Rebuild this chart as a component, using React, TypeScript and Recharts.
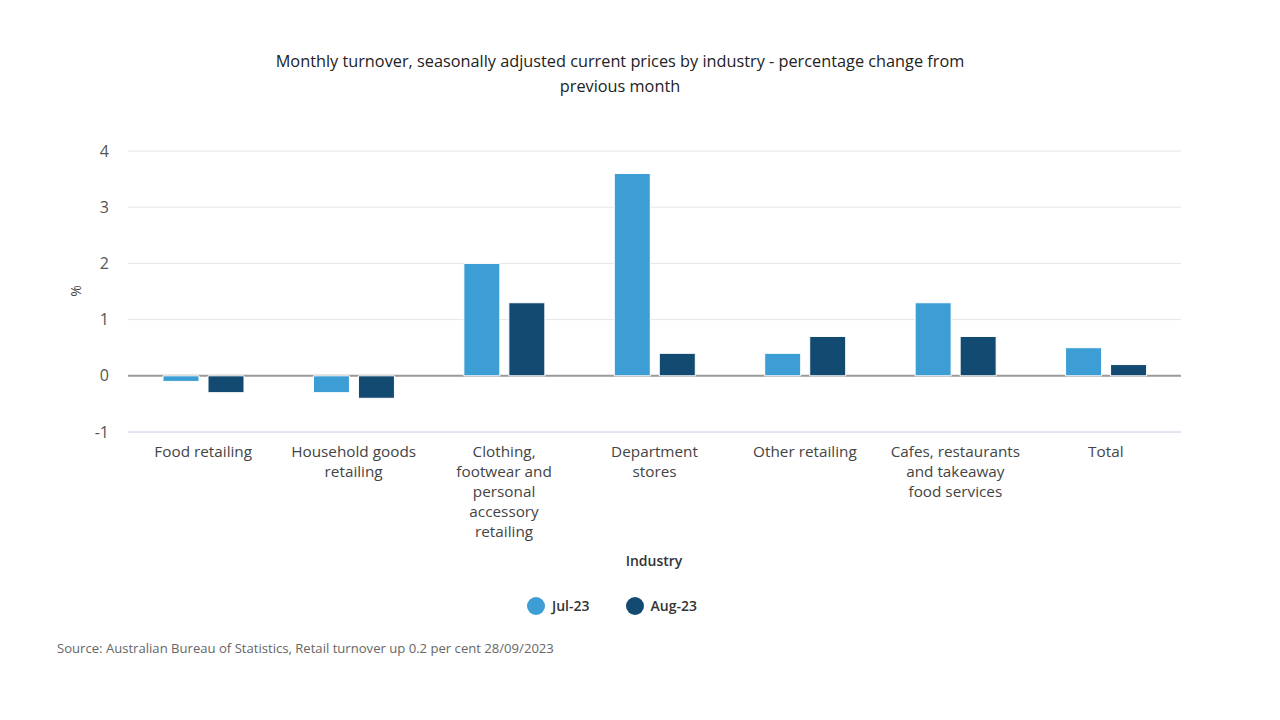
import { BarChart, Bar, XAxis, YAxis, CartesianGrid } from "recharts";

// =========================
// DATA
// =========================

const categories = [
  "Food retailing",
  "Household goods retailing",
  "Clothing, footwear and personal accessory retailing",
  "Department stores",
  "Other retailing",
  "Cafes, restaurants and takeaway food services",
  "Total"
];

// wrapped tick labels, one array per category
const categoryLines = [
  ["Food retailing"],
  ["Household goods", "retailing"],
  ["Clothing,", "footwear and", "personal", "accessory", "retailing"],
  ["Department", "stores"],
  ["Other retailing"],
  ["Cafes, restaurants", "and takeaway", "food services"],
  ["Total"]
];

const jul23 = [-0.1, -0.3, 2.0, 3.6, 0.4, 1.3, 0.5];
const aug23 = [-0.3, -0.4, 1.3, 0.4, 0.7, 0.7, 0.2];

const yTicks = [-1, 0, 1, 2, 3, 4];
const zeroLine = [0];

const titleLines = [
  "Monthly turnover, seasonally adjusted current prices by industry - percentage change from",
  "previous month"
];
const xTitle = "Industry";
const yTitle = "%";
const source =
  "Source: Australian Bureau of Statistics, Retail turnover up 0.2 per cent 28/09/2023";

const seriesNames = ["Jul-23", "Aug-23"];

// =========================
// COLORS
// =========================

const julColor = "#3d9ed5";
const augColor = "#134a72";
const font = "'Open Sans', 'Noto Sans', sans-serif";

const data = categories.map((c, i) => ({
  name: c,
  jul: jul23[i],
  aug: aug23[i]
}));

const XTick = (props: any) => {
  const { x, y, payload } = props;
  const lines = categoryLines[categories.indexOf(payload.value)] || [payload.value];
  return (
    <text x={x} y={y} textAnchor="middle" fontSize={15.3} fill="#444" fontFamily={font}>
      {lines.map((l, i) => (
        <tspan key={i} x={x} dy={i === 0 ? 16.5 : 20}>
          {l}
        </tspan>
      ))}
    </text>
  );
};

export default function App() {
  return (
    <div
      style={{
        position: "relative",
        width: 1264,
        height: 704,
        fontFamily: font,
        background: "#fff"
      }}
    >
      {/* title */}
      <div
        style={{
          position: "absolute",
          left: 0,
          top: 41,
          width: 1224,
          textAlign: "center",
          fontSize: 16.3,
          lineHeight: "25px",
          color: "#222"
        }}
      >
        {titleLines.map((t, i) => (
          <div key={i}>{t}</div>
        ))}
      </div>

      <BarChart
        width={1264}
        height={544}
        data={data}
        margin={{ top: 143, right: 91, bottom: 0, left: 60 }}
        barSize={36}
        barGap={9}
      >
        <CartesianGrid vertical={false} stroke="#e6e6e6" />
        {/* zero baseline, behind the bars */}
        <CartesianGrid
          vertical={false}
          horizontalValues={zeroLine}
          stroke="#9a9a9a"
          strokeWidth={2}
        />
        <XAxis
          dataKey="name"
          interval={0}
          height={120}
          tickLine={false}
          axisLine={{ stroke: "#ccd6eb" }}
          tick={<XTick />}
        />
        <YAxis
          width={60}
          domain={[-1, 4]}
          ticks={yTicks}
          axisLine={false}
          tickLine={false}
          tickMargin={13}
          tick={{ fontSize: 16, fill: "#555", fontFamily: font }}
        />
        <Bar dataKey="jul" name={seriesNames[0]} fill={julColor} stroke="#fff" strokeWidth={1} isAnimationActive={false} />
        <Bar dataKey="aug" name={seriesNames[1]} fill={augColor} stroke="#fff" strokeWidth={1} isAnimationActive={false} />
      </BarChart>

      {/* y axis title */}
      <div
        style={{
          position: "absolute",
          left: 67,
          top: 283,
          transform: "translate(-50%, -50%) rotate(-90deg)",
          fontSize: 14,
          color: "#444"
        }}
      >
        {yTitle}
      </div>

      {/* x axis title */}
      <div
        style={{
          position: "absolute",
          left: 546,
          width: 200,
          top: 543,
          textAlign: "center",
          fontSize: 14,
          lineHeight: "20px",
          fontWeight: 600,
          color: "#333"
        }}
      >
        {xTitle}
      </div>

      {/* legend */}
      <div
        style={{
          position: "absolute",
          left: 519,
          top: 588,
          display: "flex",
          alignItems: "center",
          fontSize: 14,
          fontWeight: 600,
          color: "#333",
          lineHeight: "20px"
        }}
      >
        {seriesNames.map((s, i) => (
          <div key={s} style={{ display: "flex", alignItems: "center", marginRight: 36 }}>
            <span
              style={{
                width: 18,
                height: 18,
                borderRadius: 9,
                background: i === 0 ? julColor : augColor,
                marginRight: 7
              }}
            />
            <span>{s}</span>
          </div>
        ))}
      </div>

      {/* source */}
      <div
        style={{
          position: "absolute",
          left: 49,
          top: 630,
          fontSize: 13.1,
          lineHeight: "20px",
          color: "#666"
        }}
      >
        {source}
      </div>
    </div>
  );
}
